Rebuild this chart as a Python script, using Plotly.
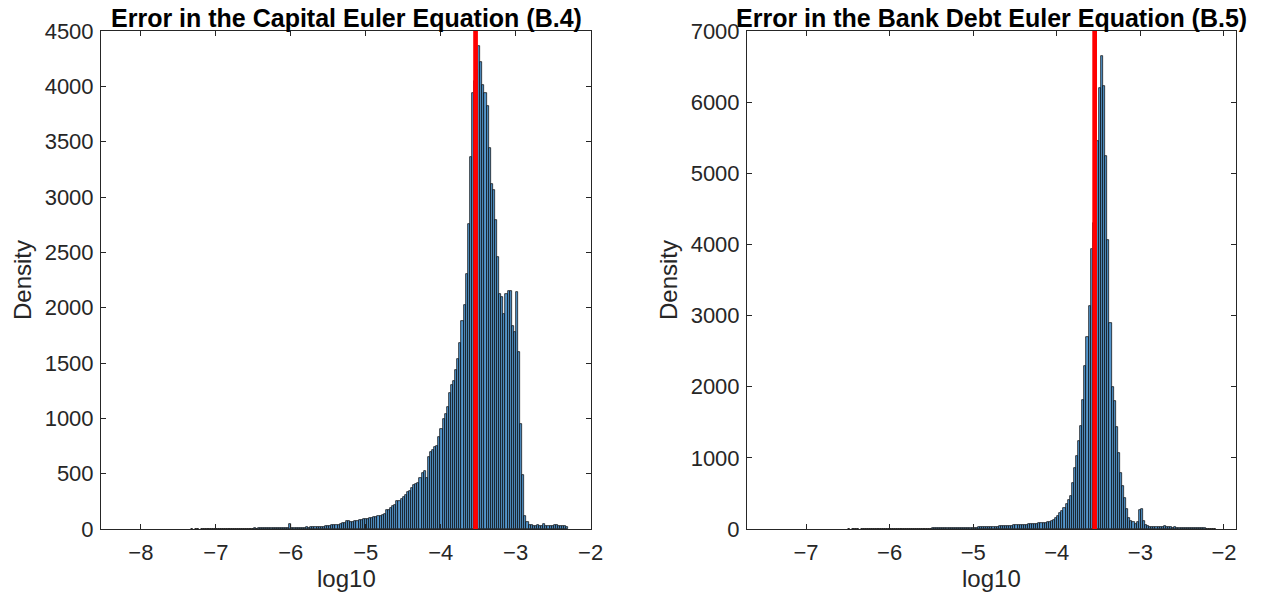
import numpy as np
import plotly.graph_objects as go

# ---------------- data ----------------
# Capital Euler equation errors (log10), histogram counts
cap_start = -8.204
cap_width = 0.028
cap_counts = (
    [0] * 30
    + [0, 1, 0, 1, 1, 0, 1, 1, 1, 2, 1, 1, 2, 1, 2]
    + [2, 2, 1, 2, 3, 2, 2, 3, 3, 2, 3, 4, 3, 4, 4]
    + [4, 5, 4, 5, 6, 5, 6, 7, 6, 7, 8, 7, 8, 9, 8, 9, 10, 9]
    + [45]
    + [10, 11, 10, 12, 12, 11, 13, 14, 13, 15, 15, 16, 18, 17, 20, 22, 24, 27]
    + [30, 32, 35, 36, 40, 45, 50, 57, 72, 70, 66, 64, 70, 75, 80, 84, 88, 90]
    + [92, 95, 99, 105, 110, 117, 120, 130, 140, 168, 175, 190, 205, 215, 250,
       256, 270, 290, 310, 330, 340, 367, 400, 407, 420, 460, 503, 520, 458, 654,
       700, 710, 745, 750, 830]
    + [900, 990, 1040, 1100, 1230, 1300, 1340, 1440, 1540, 1680, 1880, 2020,
       2300, 2760, 3360, 3940, 4050, 4150]
    + [4360, 4220, 4010, 3940, 3820, 3440, 3120, 3060, 2790, 2460, 2120, 2100,
       1940, 2120, 2150, 2150, 1830, 1780, 2140, 1600, 950, 490, 115, 60]
    + [40, 35, 30, 28, 32, 25, 30, 45, 30, 28, 25, 30, 32, 35, 30, 28, 30, 25, 20]
)
cap_mean = -3.535

# Bank debt Euler equation errors (log10), histogram counts
bank_start = -6.52
bank_width = 0.025
bank_counts = (
    [0, 1, 0, 1, 1, 1, 0, 1, 1, 2, 1, 1, 2, 1, 2, 2, 1, 2, 2, 3,
     2, 3, 2, 3, 3, 4, 3, 3, 4, 4, 5, 4, 5, 5, 6, 5, 6, 6, 7, 7]
    + [7, 8, 8, 9, 8, 9, 10, 10, 11, 10, 12, 12, 13, 12, 14, 15, 14, 16, 17, 18]
    + [18, 20, 20, 22, 24, 23, 26, 28, 27, 30, 32, 30, 35, 38, 36, 40, 42, 45, 44, 48]
    + [50, 55, 52, 58, 60, 56, 62, 66, 70, 68, 72, 75, 78, 82, 88, 90, 95, 105, 110, 130]
    + [155, 180, 225, 250, 295, 345, 410, 470, 650, 860, 1020, 1230, 1450, 1820,
       2290, 2700, 3130, 3940]
    + [4300, 4800]
    + [5450, 6200, 6650, 6230, 5250, 4060, 2900, 2000, 1800, 1440, 1070, 790,
       600, 440, 280, 150, 110, 95, 75, 100, 270, 280, 110, 50]
    + [40, 35, 30, 28, 30, 25, 28, 30, 45, 25, 22, 25, 20, 22, 18, 20, 15, 18,
       15, 12, 15, 14, 12, 12, 10, 10, 8, 8, 6, 6, 5, 3, 2]
)
bank_mean = -3.547

titles = ["Error in the Capital Euler Equation (B.4)",
          "Error in the Bank Debt Euler Equation (B.5)"]
x_label = "log10"
y_label = "Density"
cap_yticks = list(range(0, 4501, 500))
bank_yticks = list(range(0, 7001, 1000))
cap_xticks = [-8, -7, -6, -5, -4, -3, -2]
bank_xticks = [-7, -6, -5, -4, -3, -2]

# ---------------- figure ----------------
FONT = "Liberation Sans, Arial, Helvetica, sans-serif"
INK = "#262626"
BAR_FILL = "rgb(84,150,205)"

def centers(start, width, n):
    return start + width * (np.arange(n) + 0.5)

def nonzero(counts):
    return [c if c > 0 else None for c in counts]

fig = go.Figure()
fig.add_trace(go.Bar(
    x=centers(cap_start, cap_width, len(cap_counts)), y=nonzero(cap_counts),
    width=cap_width, marker=dict(color=BAR_FILL, line=dict(color="black", width=0.7)),
    xaxis="x", yaxis="y", showlegend=False, hoverinfo="skip"))
fig.add_trace(go.Bar(
    x=centers(bank_start, bank_width, len(bank_counts)), y=nonzero(bank_counts),
    width=bank_width, marker=dict(color=BAR_FILL, line=dict(color="black", width=0.7)),
    xaxis="x2", yaxis="y2", showlegend=False, hoverinfo="skip"))

for xr, m in (("x", cap_mean), ("x2", bank_mean)):
    fig.add_shape(type="line", xref=xr, yref=xr.replace("x", "y") + " domain",
                  x0=m, x1=m, y0=0, y1=1, line=dict(color="#ff0000", width=4.7))

axis_common = dict(showline=True, linecolor=INK, linewidth=1, mirror="ticks",
                   ticks="inside", ticklen=5, tickcolor=INK, tickwidth=1,
                   showgrid=False, zeroline=False,
                   tickfont=dict(family=FONT, size=22, color=INK))

L, R, T, B = 101, 29, 31, 77
W, H = 1265, 606
pw = W - L - R
d1 = [0, (591 - L) / pw]
d2 = [(747 - L) / pw, 1]

fig.update_layout(
    width=W, height=H, margin=dict(l=L, r=R, t=T, b=B),
    paper_bgcolor="white", plot_bgcolor="white", bargap=0,
    xaxis=dict(axis_common, domain=d1, range=[-8.532, -1.995], tickvals=cap_xticks,
               anchor="y", ticklabelstandoff=4),
    yaxis=dict(axis_common, range=[0, 4500], tickvals=cap_yticks, anchor="x",
               ticklabelstandoff=2),
    xaxis2=dict(axis_common, domain=d2, range=[-7.706, -1.856], tickvals=bank_xticks,
                anchor="y2", ticklabelstandoff=4),
    yaxis2=dict(axis_common, range=[0, 7000], tickvals=bank_yticks, anchor="x2",
                ticklabelstandoff=2),
)

anns = []
for i, dom in enumerate((d1, d2)):
    cx = (dom[0] + dom[1]) / 2
    anns.append(dict(text="<b>" + titles[i] + "</b>", xref="paper", yref="paper",
                     x=cx, y=1, xanchor="center", yanchor="bottom", yshift=-3,
                     showarrow=False, font=dict(family=FONT, size=25, color="black")))
    anns.append(dict(text=x_label, xref="paper", yref="paper", x=cx, y=0,
                     xanchor="center", yanchor="middle", yshift=-49,
                     showarrow=False, font=dict(family=FONT, size=24, color=INK)))
    anns.append(dict(text=y_label, xref="paper", yref="paper", x=dom[0], y=0.5,
                     xanchor="center", yanchor="middle", xshift=-79, textangle=-90,
                     showarrow=False, font=dict(family=FONT, size=24, color=INK)))
fig.update_layout(annotations=anns)

fig.write_html("out.html")
